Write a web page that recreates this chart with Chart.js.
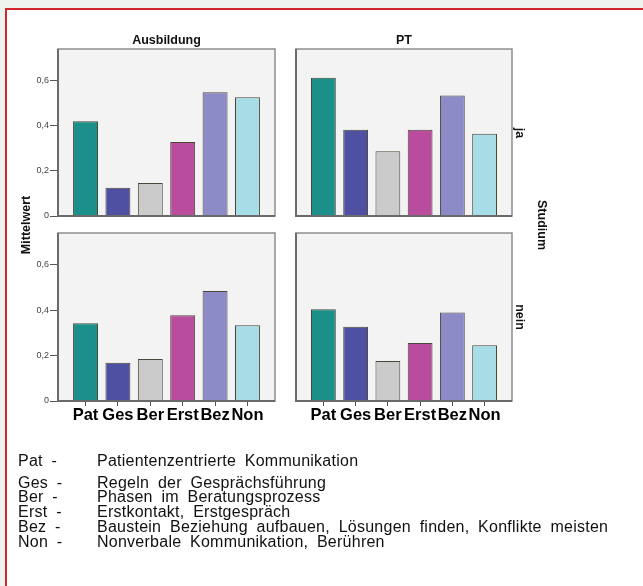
<!DOCTYPE html>
<html>
<head>
<meta charset="utf-8">
<script src="https://cdn.jsdelivr.net/npm/chart.js@4/dist/chart.umd.min.js"></script>
<style>
  html, body { margin: 0; padding: 0; }
  body { width: 643px; height: 586px; overflow: hidden; background: #eef5ec; position: relative;
         font-family: "Liberation Sans", Arial, sans-serif; }
  #frame { position: absolute; left: 5px; top: 8px; width: 700px; height: 650px; background: #fff;
           border-left: 2.5px solid #d2282c; border-top: 2.5px solid #d2282c; }
  canvas { position: absolute; }
  .lbl { position: absolute; white-space: nowrap; color: #111; transform: translate(-50%, -50%); }
  .b { font-weight: bold; font-size: 12.5px; }
  .rot-l { transform: translate(-50%, -50%) rotate(-90deg); }
  .rot-r { transform: translate(-50%, -50%) rotate(90deg); }
  .leg { position: absolute; white-space: nowrap; font-size: 16px; line-height: 16px; color: #111;
         letter-spacing: 0.25px; word-spacing: 4px; }
</style>
</head>
<body>
<div id="frame"></div>
<div id="wrap"></div>
<script>
// Daten: Mittelwerte je Panel
const categories = ['Pat', 'Ges', 'Ber', 'Erst', 'Bez', 'Non'];
const ausbildungJa = [0.42, 0.125, 0.146, 0.328, 0.548, 0.526];
const ptJa = [0.613, 0.382, 0.287, 0.382, 0.534, 0.365];
const ausbildungNein = [0.342, 0.169, 0.185, 0.378, 0.484, 0.334];
const ptNein = [0.404, 0.327, 0.176, 0.256, 0.390, 0.246];
const yTicks = [0, 0.2, 0.4, 0.6];
const yMax = 0.74;
const columnTitles = ['Ausbildung', 'PT'];
const rowTitles = ['ja', 'nein'];
const legendNames = [
    'Patientenzentrierte Kommunikation',
    'Regeln der Gesprächsführung',
    'Phasen im Beratungsprozess',
    'Erstkontakt, Erstgespräch',
    'Baustein Beziehung aufbauen, Lösungen finden, Konflikte meisten',
    'Nonverbale Kommunikation, Berühren'
];

const barColors = ['#1b8f8a', '#5050a2', '#cbcbcb', '#b94c9d', '#8c8ac7', '#a6dde6'];
const wrap = document.getElementById('wrap');

// Panel-Hintergrund und Rahmen
const panelFrame = {
    id: 'panelFrame',
    beforeDraw(chart) {
        const a = chart.chartArea, ctx = chart.ctx;
        ctx.save();
        ctx.fillStyle = '#f3f3f3';
        ctx.fillRect(a.left, a.top, a.right - a.left, a.bottom - a.top);
        ctx.restore();
    },
    afterDatasetsDraw(chart) {
        const a = chart.chartArea, ctx = chart.ctx;
        ctx.save();
        ctx.strokeStyle = '#8e8e8e';
        ctx.lineWidth = 1.5;
        ctx.strokeRect(a.left, a.top, a.right - a.left, a.bottom - a.top);
        ctx.strokeStyle = '#6a6a6a';
        ctx.lineWidth = 2;
        ctx.beginPath();
        ctx.moveTo(a.left, a.top);
        ctx.lineTo(a.left, a.bottom);
        ctx.lineTo(a.right, a.bottom);
        ctx.stroke();
        ctx.restore();
    }
};

function makePanel(values, area, showY, showX) {
    const padL = 40, padT = 5, padR = 5, padB = 30;
    const cv = document.createElement('canvas');
    const w = area.r - area.l + padL + padR;
    const h = area.b - area.t + padT + padB;
    cv.width = w; cv.height = h;
    cv.style.left = (area.l - padL) + 'px';
    cv.style.top = (area.t - padT) + 'px';
    wrap.appendChild(cv);

    new Chart(cv.getContext('2d'), {
        type: 'bar',
        data: {
            datasets: [{
                data: values.map((v, i) => ({ x: i, y: v })),
                backgroundColor: barColors,
                borderColor: '#4a4636',
                borderWidth: 1,
                categoryPercentage: 1,
                barPercentage: 0.77
            }]
        },
        plugins: [panelFrame],
        options: {
            responsive: false,
            animation: false,
            layout: { padding: { top: padT, right: padR, left: showY ? 0 : padL, bottom: showX ? 0 : padB } },
            plugins: { legend: { display: false }, tooltip: { enabled: false } },
            scales: {
                x: {
                    type: 'linear',
                    display: showX,
                    min: -0.85,
                    max: 5.85,
                    offset: false,
                    grid: { display: true, offset: false, drawOnChartArea: false, tickLength: 5, color: '#555' },
                    border: { display: false },
                    afterBuildTicks: s => { s.ticks = categories.map((c, i) => ({ value: i })); },
                    afterFit: s => {
                        s.paddingLeft = 0; s.paddingRight = 0;
                        if (showX) s.height = padB;
                    },
                    ticks: {
                        autoSkip: false, maxRotation: 0, minRotation: 0, padding: 0,
                        color: '#000',
                        font: { family: 'Liberation Sans', size: 16.5, weight: 'bold' },
                        callback: v => categories[v]
                    }
                },
                y: {
                    display: showY,
                    min: 0,
                    max: yMax,
                    grid: { display: true, drawOnChartArea: false, tickLength: 8, color: '#555' },
                    border: { display: false },
                    afterBuildTicks: s => { s.ticks = yTicks.map(v => ({ value: v })); },
                    afterFit: s => {
                        s.paddingTop = 0; s.paddingBottom = 0;
                        if (showY) s.width = padL;
                    },
                    ticks: {
                        padding: 1,
                        color: '#444',
                        font: { family: 'Liberation Sans', size: 9 },
                        callback: v => v === 0 ? '0' : v.toFixed(1).replace('.', ',')
                    }
                }
            }
        }
    });
}

makePanel(ausbildungJa, { l: 58, t: 49, r: 275, b: 216 }, true, false);
makePanel(ptJa, { l: 296, t: 49, r: 512, b: 216 }, false, false);
makePanel(ausbildungNein, { l: 58, t: 233, r: 275, b: 401 }, true, true);
makePanel(ptNein, { l: 296, t: 233, r: 512, b: 401 }, false, true);

// Beschriftungen
function addLabel(text, x, y, cls) {
    const d = document.createElement('div');
    d.className = 'lbl ' + cls;
    d.textContent = text;
    d.style.left = x + 'px';
    d.style.top = y + 'px';
    document.body.appendChild(d);
}
addLabel(columnTitles[0], 166.5, 40, 'b');
addLabel(columnTitles[1], 404, 40, 'b');
addLabel(rowTitles[0], 520, 133, 'b rot-r');
addLabel(rowTitles[1], 520, 317, 'b rot-r');
addLabel('Studium', 542, 225, 'b rot-r');
addLabel('Mittelwert', 26, 225, 'b rot-l');

// Legende der Abkürzungen
categories.forEach((c, i) => {
    const y = i === 0 ? 460.5 : 482.5 + (i - 1) * 14.9;
    const a = document.createElement('div');
    a.className = 'leg';
    a.textContent = c + ' -';
    a.style.left = '18px';
    a.style.top = (y - 8) + 'px';
    document.body.appendChild(a);
    const t = document.createElement('div');
    t.className = 'leg';
    t.textContent = legendNames[i];
    t.style.left = '97px';
    t.style.top = (y - 8) + 'px';
    document.body.appendChild(t);
});
</script>
</body>
</html>
